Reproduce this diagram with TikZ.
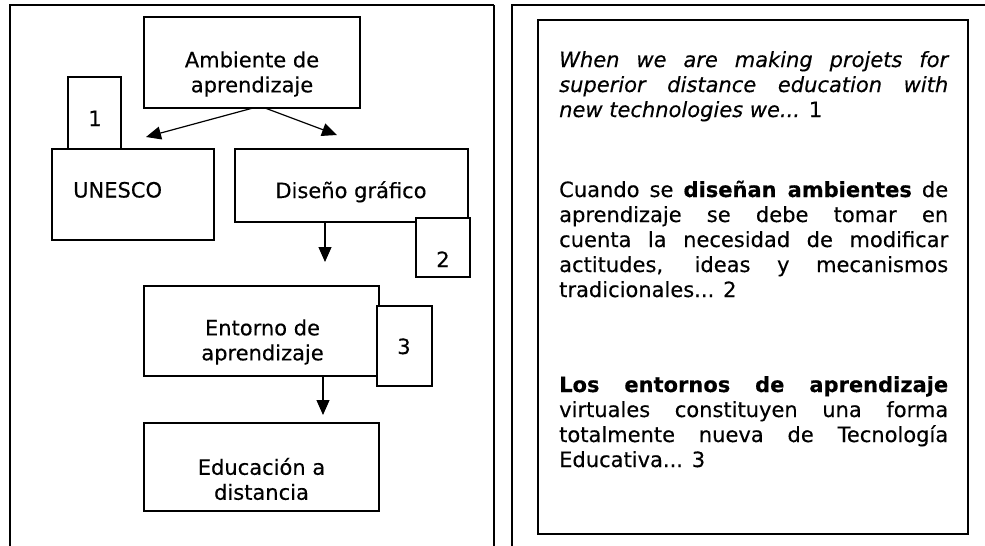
\documentclass[tikz,border=0pt]{standalone}
\usepackage{fontspec}
\setmainfont{DejaVu Sans}[FakeBold=0.35]
\usetikzlibrary{arrows.meta}
\begin{document}
\begin{tikzpicture}[x=1pt,y=-1pt,
  box/.style={draw,line width=1.2pt,fill=white,inner sep=0pt,outer sep=0pt,anchor=north west},
  lbl/.style={inner sep=0pt,align=center,font=\fontsize{21}{25}\selectfont},
  txt/.style={inner sep=0pt,anchor=base west,font=\fontsize{21}{25}\selectfont},
  arr/.style={line width=1.2pt,-{Triangle[length=15pt,width=13pt]}}]
\useasboundingbox (0,0) rectangle (985,546);
% panels
\draw[line width=2pt] (9.5,546) -- (9.5,5) -- (494,5);
\draw[line width=1.3pt] (494,5) -- (494,546);
\draw[line width=2pt] (511.5,546) -- (511.5,5) -- (990,5);
\draw[line width=1.3pt] (538,20) rectangle (968,534);
% left diagram boxes
\node[box,minimum width=216pt,minimum height=91pt] (amb) at (144,17) {};
\node[box,minimum width=162pt,minimum height=91pt] (unesco) at (52,149) {};
\node[box,minimum width=53pt,minimum height=72pt] (b1) at (68,77) {};
\node[box,minimum width=233pt,minimum height=73pt] (dis) at (235,149) {};
\node[box,minimum width=54pt,minimum height=59pt] (b2) at (416,218) {};
\node[box,minimum width=235pt,minimum height=90pt] (ent) at (144,286) {};
\node[box,minimum width=55pt,minimum height=80pt] (b3) at (377,306) {};
\node[box,minimum width=235pt,minimum height=88pt] (edu) at (144,423) {};
% labels
\node[lbl] (tamb) at (252,74) {Ambiente de\\aprendizaje};
\node[lbl,anchor=base west] (tun) at (73,197.5) {UNESCO};
\node[lbl,anchor=base] (tdis) at (351,198) {Diseño gráfico};
\node[lbl] (tent) at (262.5,342) {Entorno de\\aprendizaje};
\node[lbl] (tedu) at (261.5,479) {Educación a\\distancia};
\node[lbl,anchor=base] (t1n) at (95,126) {1};
\node[lbl,anchor=base] (t2n) at (443,267) {2};
\node[lbl,anchor=base] (t3n) at (404,354) {3};
% connectors
\coordinate (e1) at (146,137);
\coordinate (e2) at (337,135);
\coordinate (e3) at (325,262);
\coordinate (e4) at (323,415);
\draw[arr] ([xshift=1pt]amb.south) -- (e1);
\draw[arr] ([xshift=13pt]amb.south) -- (e2);
\draw[arr] ([xshift=-26.5pt]dis.south) -- (e3);
\draw[arr] ([xshift=61.5pt]ent.south) -- (e4);
% right text
\node[txt] (r1) at (559,67) {\makebox[389pt][s]{\itshape When we are making projets for}};
\node[txt] (r2) at (559,92) {\makebox[389pt][s]{\itshape superior distance education with}};
\node[txt] (r3) at (559,117) {\textit{new technologies we...} 1};
\node[txt] (r4) at (559,197) {\makebox[389pt][s]{Cuando se \textbf{diseñan ambientes} de}};
\node[txt] (r5) at (559,222) {\makebox[389pt][s]{aprendizaje se debe tomar en}};
\node[txt] (r6) at (559,247) {\makebox[389pt][s]{cuenta la necesidad de modificar}};
\node[txt] (r7) at (559,272) {\makebox[389pt][s]{actitudes, ideas y mecanismos}};
\node[txt] (r8) at (559,297) {tradicionales... 2};
\node[txt] (r9) at (559,392) {\makebox[389pt][s]{\bfseries Los entornos de aprendizaje}};
\node[txt] (r10) at (559,417) {\makebox[389pt][s]{virtuales constituyen una forma}};
\node[txt] (r11) at (559,442) {\makebox[389pt][s]{totalmente nueva de Tecnología}};
\node[txt] (r12) at (559,467) {Educativa... 3};
\end{tikzpicture}
\end{document}
